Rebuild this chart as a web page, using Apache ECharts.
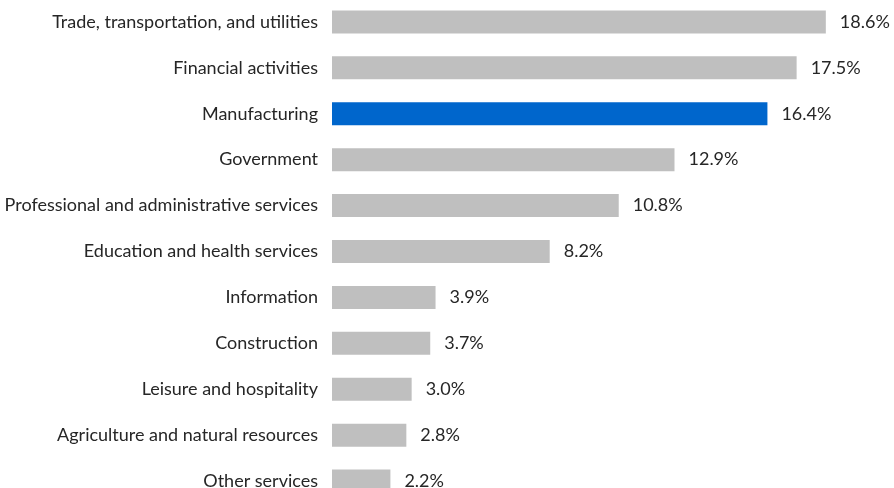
<!DOCTYPE html>
<html><head><meta charset="utf-8">
<script src="https://cdn.jsdelivr.net/npm/echarts@6/dist/echarts.min.js"></script>
<style>html,body{margin:0;padding:0;background:#fff;overflow:hidden;width:894px;height:488px}#c{width:894px;height:505px;margin-top:-1px}</style>
</head><body><div id="c"></div>
<script>
var categories = ["Trade, transportation, and utilities","Financial activities","Manufacturing","Government","Professional and administrative services","Education and health services","Information","Construction","Leisure and hospitality","Agriculture and natural resources","Other services"];
var values = [18.6,17.5,16.4,12.9,10.8,8.2,3.9,3.7,3.0,2.8,2.2];
var highlight = "Manufacturing";
var chart = echarts.init(document.getElementById('c'), null, {renderer:'canvas'});
var font = 'Lato';
chart.setOption({
  animation:false,
  grid:{left:332,width:531,top:0,bottom:0,containLabel:false},
  xAxis:{type:'value',min:0,max:20,show:false},
  yAxis:{type:'category',data:categories,inverse:true,
    axisLine:{show:false},axisTick:{show:false},
    axisLabel:{margin:14,color:'#262626',fontFamily:font,fontSize:18}},
  series:[{type:'bar',barWidth:23,
    data:values.map(function(v,i){return {value:v,itemStyle:{color:categories[i]===highlight?'#0066CC':'#BFBFBF'}};}),
    label:{show:true,position:'right',distance:14,color:'#262626',fontFamily:font,fontSize:18,
      formatter:function(p){return p.value.toFixed(1)+'%';}}
  }]
});
</script></body></html>
